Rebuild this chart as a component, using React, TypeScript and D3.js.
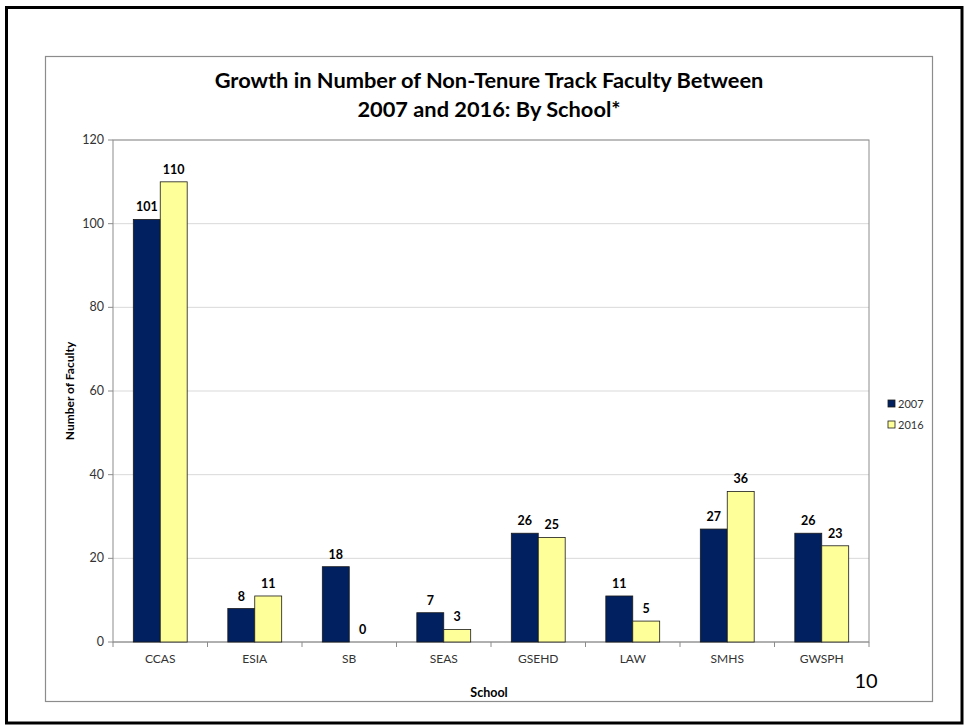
import React from 'react';
import * as d3 from 'd3';

const schools = ['CCAS', 'ESIA', 'SB', 'SEAS', 'GSEHD', 'LAW', 'SMHS', 'GWSPH'];
const years = ['2007', '2016'];
const values2007 = [101, 8, 18, 7, 26, 11, 27, 26];
const values2016 = [110, 11, 0, 3, 25, 5, 36, 23];
const yTicks = [0, 20, 40, 60, 80, 100, 120];

const colors: Record<string, string> = { '2007': '#002060', '2016': '#FFFF99' };
const font = 'Lato, "Open Sans", sans-serif';

const App: React.FC = () => {
  const width = 967;
  const height = 726;
  const plot = { left: 113, top: 140, right: 869, bottom: 642 };

  const x = d3
    .scaleBand<string>()
    .domain(schools)
    .range([plot.left, plot.right])
    .paddingInner(0.43)
    .paddingOuter(0.215);
  const x1 = d3.scaleBand<string>().domain(years).range([0, x.bandwidth()]);
  const y = d3.scaleLinear().domain([0, 120]).range([plot.bottom, plot.top]);

  const bandStep = (plot.right - plot.left) / schools.length;

  const rows = schools.map((s, i) => ({
    school: s,
    vals: [
      { year: '2007', v: values2007[i] },
      { year: '2016', v: values2016[i] },
    ],
  }));

  return (
    <svg
      width={width}
      height={height}
      style={{ position: 'absolute', left: 0, top: 0, background: '#fff' }}
      fontFamily={font}
    >
      {/* slide frame */}
      <rect x={6.5} y={7.5} width={955.5} height={715.5} fill="none" stroke="#000" strokeWidth={3} />
      {/* chart frame */}
      <rect x={45.5} y={56.5} width={887} height={645} fill="none" stroke="#8c8c8c" strokeWidth={1.2} />

      <text x={489} y={88} textAnchor="middle" fontSize={21.8} fontWeight="bold" fill="#000">
        Growth in Number of Non-Tenure Track Faculty Between
      </text>
      <text x={489} y={117} textAnchor="middle" fontSize={21.8} fontWeight="bold" fill="#000">
        2007 and 2016: By School*
      </text>

      {/* gridlines */}
      {yTicks.map((t) => (
        <line
          key={t}
          x1={plot.left}
          x2={plot.right}
          y1={y(t)}
          y2={y(t)}
          stroke={t === 0 ? '#a6a6a6' : '#d9d9d9'}
          strokeWidth={1}
        />
      ))}
      {/* plot border */}
      <rect
        x={plot.left}
        y={plot.top}
        width={plot.right - plot.left}
        height={plot.bottom - plot.top}
        fill="none"
        stroke="#8c8c8c"
        strokeWidth={1}
      />

      {/* y axis ticks */}
      {yTicks.map((t) => (
        <g key={t}>
          <line x1={plot.left - 5} x2={plot.left} y1={y(t)} y2={y(t)} stroke="#8c8c8c" />
          <text x={plot.left - 9} y={y(t) + 4} textAnchor="end" fontSize={12.5} fill="#333">
            {t}
          </text>
        </g>
      ))}

      {/* x axis ticks */}
      {d3.range(schools.length + 1).map((i) => (
        <line
          key={i}
          x1={plot.left + i * bandStep}
          x2={plot.left + i * bandStep}
          y1={plot.bottom}
          y2={plot.bottom + 5}
          stroke="#8c8c8c"
        />
      ))}
      {schools.map((s) => (
        <text
          key={s}
          x={x(s)! + x.bandwidth() / 2}
          y={plot.bottom + 21}
          textAnchor="middle"
          fontSize={12}
          fill="#333"
        >
          {s}
        </text>
      ))}

      {/* bars */}
      {rows.map((r) => (
        <g key={r.school} transform={`translate(${x(r.school)},0)`}>
          {r.vals.map((d) => (
            <g key={d.year}>
              {d.v > 0 && (
                <rect
                  x={x1(d.year)}
                  y={y(d.v)}
                  width={x1.bandwidth()}
                  height={y(0) - y(d.v)}
                  fill={colors[d.year]}
                  stroke="#1a1a1a"
                  strokeWidth={0.8}
                />
              )}
              <text
                x={x1(d.year)! + x1.bandwidth() / 2}
                y={y(d.v) - 8}
                textAnchor="middle"
                fontSize={12.5}
                fontWeight="bold"
                fill="#000"
              >
                {d.v}
              </text>
            </g>
          ))}
        </g>
      ))}

      {/* axis titles */}
      <text
        transform={`translate(74,${(plot.top + plot.bottom) / 2}) rotate(-90)`}
        textAnchor="middle"
        fontSize={12}
        fontWeight="bold"
        fill="#000"
      >
        Number of Faculty
      </text>
      <text x={489} y={697} textAnchor="middle" fontSize={12.5} fontWeight="bold" fill="#000">
        School
      </text>

      {/* legend */}
      {years.map((yr, i) => (
        <g key={yr} transform={`translate(888,${400 + i * 21})`}>
          <rect x={0} y={0} width={7} height={7} fill={colors[yr]} stroke="#1a1a1a" strokeWidth={0.8} />
          <text x={10} y={7.5} fontSize={11} fill="#333">
            {yr}
          </text>
        </g>
      ))}

      <text x={866} y={688} textAnchor="middle" fontSize={20} fill="#000">
        10
      </text>
    </svg>
  );
};

export default App;
